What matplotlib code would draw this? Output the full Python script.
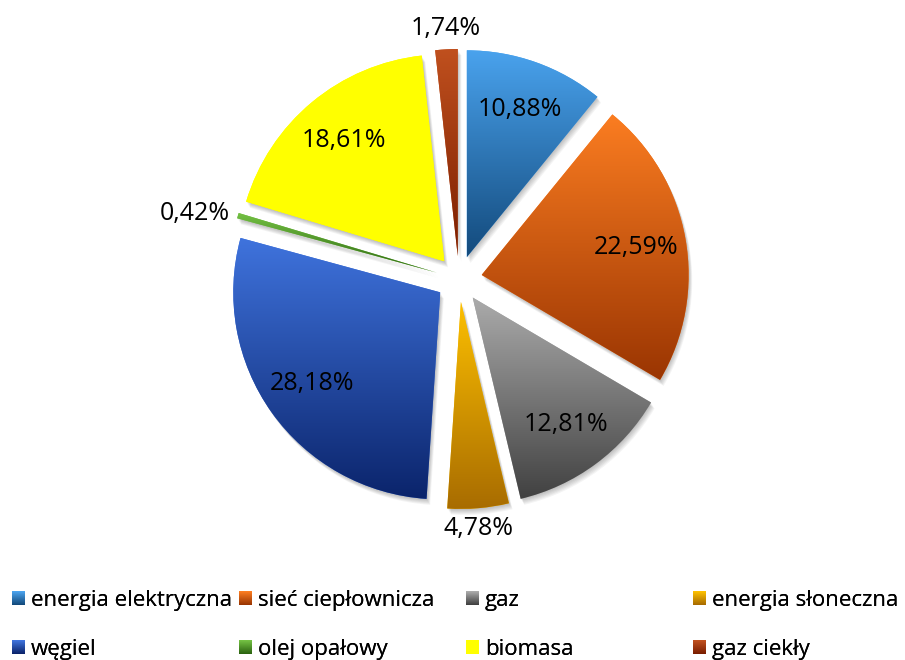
import numpy as np
import matplotlib
matplotlib.use("Agg")
import matplotlib.pyplot as plt
from matplotlib.patches import Wedge, Rectangle
from matplotlib.legend_handler import HandlerBase
from matplotlib.colors import to_rgb

# ---------------- data ----------------
categories = ["energia elektryczna", "sieć ciepłownicza", "gaz", "energia słoneczna",
              "węgiel", "olej opałowy", "biomasa", "gaz ciekły"]
values = [10.88, 22.59, 12.81, 4.78, 28.18, 0.42, 18.61, 1.74]
pct_labels = ["10,88%", "22,59%", "12,81%", "4,78%", "28,18%", "0,42%", "18,61%", "1,74%"]

# gradient colours (top -> bottom)
top_colors = ["#4aa3ee", "#fb7d21", "#ababab", "#fdc000", "#3f73dd", "#73c043", "#ffff00", "#c0501e"]
bottom_colors = ["#134a7c", "#9a3502", "#414141", "#a86c00", "#0b246b", "#2c6410", "#ffff00", "#7a1e00"]

plt.rcParams['font.family'] = ['Open Sans', 'DejaVu Sans']

W, H = 905, 660
R_PX = 207.0
CX, CY = 459.0, 660 - 279.0
EXPLODE = 23.0 / R_PX

fig = plt.figure(figsize=(W / 100, H / 100), dpi=100)
ax = fig.add_axes([0, 0, 1, 1])
ax.axis('off')

xlim = (-CX / R_PX, (W - CX) / R_PX)
ylim = (-CY / R_PX, (H - CY) / R_PX)

wedges, _ = ax.pie(values, startangle=90, counterclock=False, radius=1.0,
                   center=(0, 0), explode=[EXPLODE] * len(values),
                   wedgeprops=dict(linewidth=0))

px = 1.0 / R_PX

def interp(c1, c2, t):
    a = np.array(to_rgb(c1)); b = np.array(to_rgb(c2))
    return a + (b - a) * t

# shadows + gradients
for i, w in enumerate(wedges):
    cx, cy = w.center
    for k in range(1, 7):
        sh = Wedge((cx + k * 0.6 * px, cy - k * 1.0 * px), w.r, w.theta1, w.theta2,
                   facecolor='black', alpha=0.045, linewidth=0, zorder=0.5)
        ax.add_patch(sh)
    w.set_facecolor(top_colors[i])
    w.set_zorder(1)
    ext = w.get_path().get_extents()
    grad = np.array([interp(top_colors[i], bottom_colors[i], tt) for tt in np.linspace(0, 1, 256)])
    grad = grad[:, None, :]
    im = ax.imshow(grad, extent=[ext.x0, ext.x1, ext.y0, ext.y1], origin='upper',
                   aspect='auto', zorder=1.5, interpolation='bilinear')
    im.set_clip_path(w)

# percentage labels
for i, w in enumerate(wedges):
    cx, cy = w.center
    thm = np.deg2rad(0.5 * (w.theta1 + w.theta2))
    c, s = np.cos(thm), np.sin(thm)
    if values[i] < 5:
        d = 1.04
        ha = 'right' if c < -0.5 else ('left' if c > 0.5 else 'center')
        va = 'bottom' if s > 0.5 else ('top' if s < -0.5 else 'center')
    else:
        d = 0.76
        ha, va = 'center', 'center'
    ax.text(cx + d * c, cy + d * s, pct_labels[i], ha=ha, va=va,
            fontsize=18, color='black', zorder=5)

ax.set_xlim(*xlim)
ax.set_ylim(*ylim)
ax.set_aspect('equal')

# legend with gradient squares
class GradHandler(HandlerBase):
    def __init__(self, c_top, c_bot):
        super().__init__()
        self.c_top, self.c_bot = c_top, c_bot

    def create_artists(self, legend, orig_handle, xdescent, ydescent, width, height,
                       fontsize, trans):
        n = 14
        side = min(width, height)
        x0 = -xdescent
        y0 = -ydescent + (height - side) / 2
        arts = []
        for j in range(n):
            col = interp(self.c_top, self.c_bot, j / (n - 1))
            r = Rectangle((x0, y0 + side - (j + 1) * side / n), side, side / n * 1.05,
                          facecolor=col, linewidth=0, transform=trans)
            arts.append(r)
        return arts

ncol = 4
col_x0 = 12.0 / W
col_step = 227.0 / W
for col in range(ncol):
    idx = [col, col + ncol]
    hmap = {wedges[i]: GradHandler(top_colors[i], bottom_colors[i]) for i in idx}
    leg = fig.legend([wedges[i] for i in idx], [categories[i] for i in idx],
                     loc='upper left', bbox_to_anchor=(col_x0 + col * col_step, 1 - 590.0 / H),
                     frameon=False, fontsize=16, handlelength=0.6, handleheight=0.6,
                     handletextpad=0.25, borderpad=0, borderaxespad=0, labelspacing=1.25,
                     handler_map=hmap)
    fig.add_artist(leg)

fig.savefig("out.png", dpi=100)
